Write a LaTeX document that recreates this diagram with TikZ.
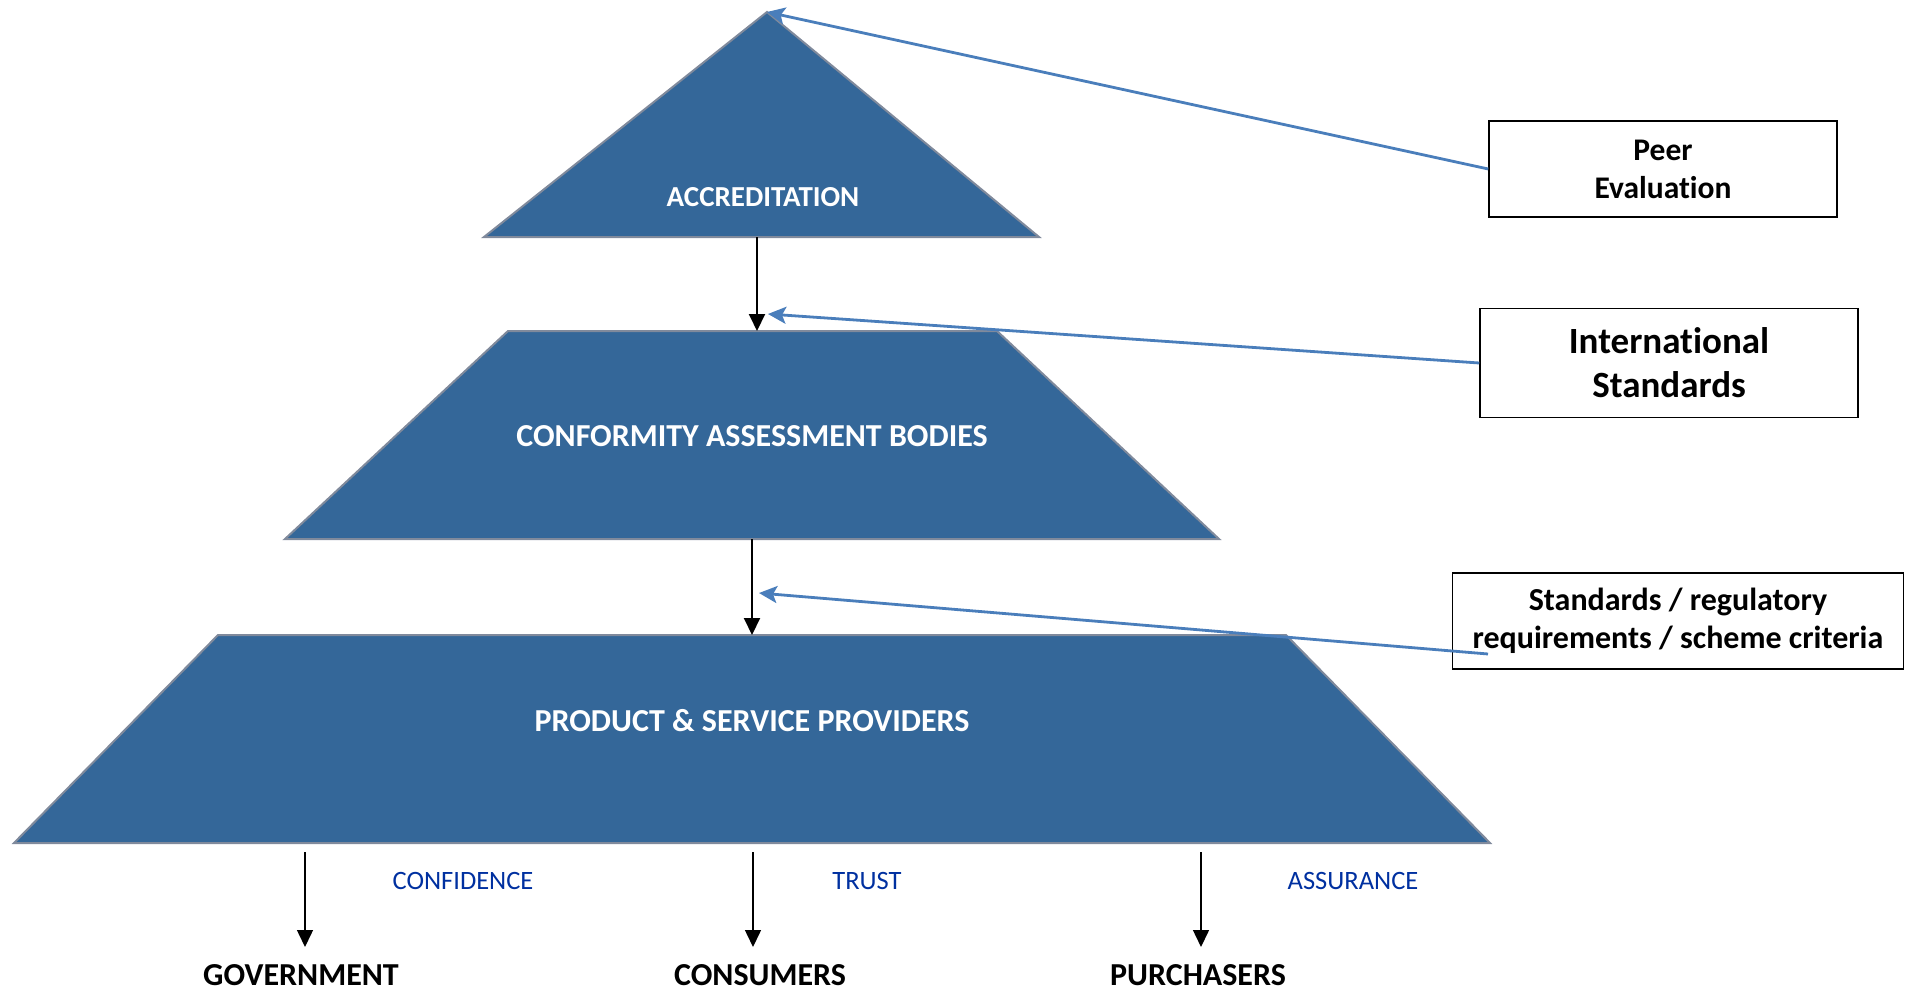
\documentclass[tikz,border=0pt]{standalone}
\usepackage{fontspec}
\setmainfont{Carlito}[Ligatures=CommonOff]
\usetikzlibrary{arrows.meta}

\begin{document}
\begin{tikzpicture}[x=1pt,y=1pt,yscale=-1,xscale=1,
  tier/.style={draw={rgb,255:red,128;green,138;blue,156},line width=2pt,fill={rgb,255:red,52;green,103;blue,153},line join=miter},
  tierlabel/.style={text=white,inner sep=0.75pt},
  sidebox/.style={draw=black,line width=1.5pt,fill=white,align=center,inner sep=0.75pt},
  down/.style={draw=black,line width=2pt,-{Triangle[length=17pt,width=16pt]}},
  feed/.style={draw={rgb,255:red,74;green,126;blue,187},line width=2.8pt,-{Stealth[length=18pt,width=17pt,inset=4pt]}},
  gain/.style={text={rgb,255:red,0;green,48;blue,160},font=\fontsize{26.5}{30}\selectfont,inner sep=0.75pt},
  audience/.style={text=black,font=\bfseries\fontsize{32}{36}\selectfont,inner sep=0.75pt}
]
\useasboundingbox (0,0) rectangle (1905,990);

%Shape: Triangle [accreditation]
\coordinate (accTop) at (767,12);
\draw [tier] (accTop) -- (1039,237) -- (484,237) -- cycle;
%Shape: Trapezoid [conformity assessment bodies]
\draw [tier] (508,331) -- (997,331) -- (1219,539) -- (285,539) -- cycle;
%Shape: Trapezoid [product and service providers]
\draw [tier] (218,635) -- (1286,635) -- (1490,843) -- (14,843) -- cycle;

% Text Node
\node (acc) [tierlabel,font=\bfseries\fontsize{29}{34}\selectfont] at (763,197) {ACCREDITATION};
% Text Node
\node (cab) [tierlabel,font=\bfseries\fontsize{32}{36}\selectfont] at (752,436) {CONFORMITY ASSESSMENT BODIES};
% Text Node
\node (psp) [tierlabel,font=\bfseries\fontsize{32}{36}\selectfont] at (752,721) {PRODUCT \& SERVICE PROVIDERS};

%Straight Lines [tier to tier]
\coordinate (accBase) at (757,237);
\coordinate (cabTop) at (757,331);
\draw [down] (accBase) -- (cabTop);
\coordinate (cabBase) at (752,539);
\coordinate (pspTop) at (752,635);
\draw [down] (cabBase) -- (pspTop);

% Side boxes
\node (peer) [sidebox,minimum width=348pt,minimum height=96pt,font=\bfseries\fontsize{31.5}{38}\selectfont] at (1663,169) {Peer\\Evaluation};
\node (intl) [sidebox,minimum width=378pt,minimum height=109pt,font=\bfseries\fontsize{37}{44}\selectfont] at (1669,363) {International\\Standards};
\node (std) [sidebox,minimum width=451pt,minimum height=96pt,font=\bfseries\fontsize{32}{38}\selectfont] at (1678,621) {Standards / regulatory\\requirements / scheme criteria};

%Straight Lines [inputs]
\draw [feed] (peer.west) -- (accTop);
\coordinate (intlTip) at (768,314);
\draw [feed] (intl.west) -- (intlTip);
\coordinate (stdTail) at (1488,654);
\coordinate (stdTip) at (759,593);
\draw [feed] (stdTail) -- (stdTip);

% Text Node
\node (conf) [gain] at (463,881) {CONFIDENCE};
\node (trust) [gain] at (867,881) {TRUST};
\node (assur) [gain] at (1353,881) {ASSURANCE};

% Text Node
\node (gov) [audience] at (301,975) {GOVERNMENT};
\node (cons) [audience] at (760,975) {CONSUMERS};
\node (purch) [audience] at (1198,975) {PURCHASERS};

%Straight Lines [outputs]
\coordinate (govTail) at (305,852);
\coordinate (govTip) at (305,947);
\draw [down,line width=1.5pt] (govTail) -- (govTip);
\coordinate (consTail) at (753,852);
\coordinate (consTip) at (753,947);
\draw [down,line width=1.5pt] (consTail) -- (consTip);
\coordinate (purchTail) at (1201,852);
\coordinate (purchTip) at (1201,947);
\draw [down,line width=1.5pt] (purchTail) -- (purchTip);

\end{tikzpicture}
\end{document}
